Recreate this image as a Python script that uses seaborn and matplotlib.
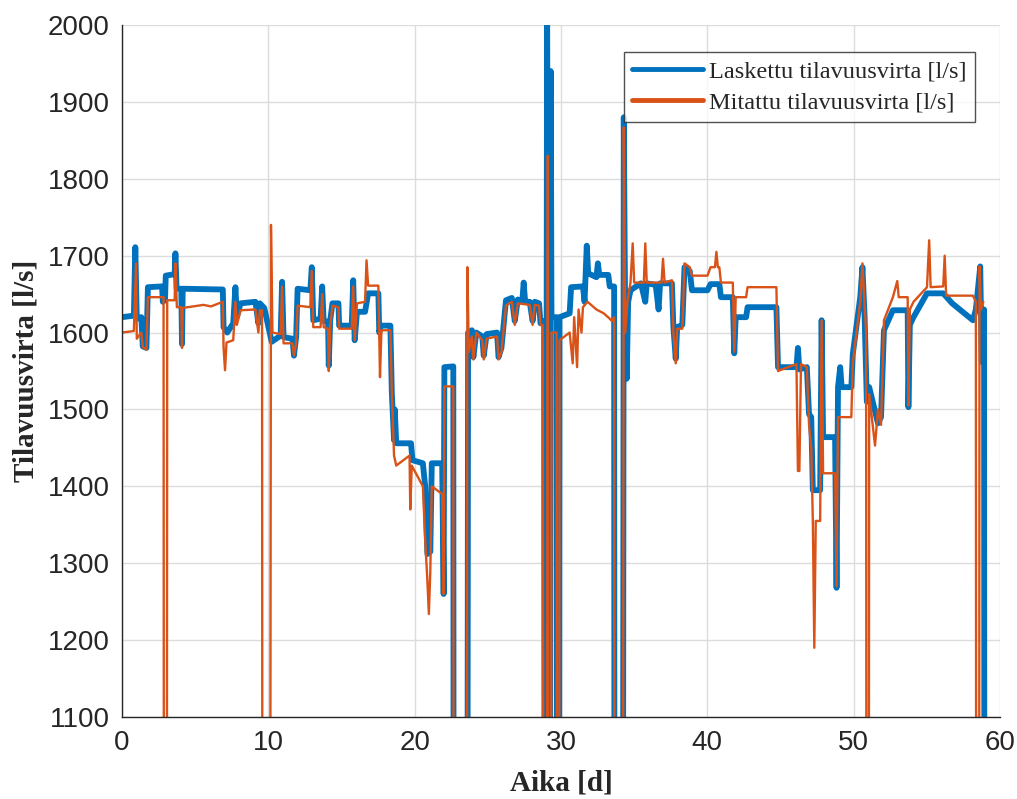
import numpy as np
import pandas as pd
import matplotlib
matplotlib.use("Agg")
import matplotlib.pyplot as plt
import seaborn as sns

# Laskettu (calculated) flow, (day, l/s) breakpoints
laskettu = [
    (0.0, 1620), (0.81, 1622), (0.91, 1711), (1.01, 1618), (1.32, 1620), (1.42, 1582),
    (1.67, 1580), (1.77, 1659), (2.74, 1660), (2.79, 1640), (2.94, 1642), (2.99, 1674),
    (3.6, 1676), (3.65, 1703), (3.73, 1657), (4.05, 1657), (4.1, 1585), (4.15, 1657),
    (6.89, 1656), (6.94, 1607), (7.19, 1600), (7.6, 1612), (7.75, 1659), (7.85, 1620),
    (8.1, 1638), (9.12, 1640), (9.32, 1612), (9.42, 1638), (9.72, 1632), (10.23, 1588),
    (10.84, 1596), (10.94, 1666), (11.04, 1594), (11.65, 1592), (11.75, 1570), (11.9, 1594),
    (12.0, 1657), (12.87, 1655), (12.97, 1685), (13.07, 1616), (13.57, 1618), (13.68, 1660),
    (13.78, 1615), (14.08, 1614), (14.13, 1557), (14.23, 1616), (14.38, 1638), (14.79, 1638),
    (14.84, 1609), (15.7, 1609), (15.8, 1668), (15.9, 1590), (16.06, 1627), (16.61, 1627),
    (16.82, 1651), (17.52, 1651), (17.58, 1600), (17.68, 1609), (18.34, 1609), (18.44, 1521),
    (18.59, 1460), (18.64, 1500), (18.74, 1456), (19.75, 1456), (19.85, 1434), (20.56, 1430),
    (20.72, 1400), (20.87, 1312), (21.07, 1315), (21.17, 1430), (21.88, 1430), (21.98, 1260),
    (22.03, 1555), (22.64, 1556), (22.69, 0), (23.55, 0), (23.65, 1600), (23.91, 1603),
    (24.01, 1568), (24.21, 1600), (24.62, 1595), (24.72, 1570), (24.92, 1598), (25.63, 1600),
    (25.73, 1568), (25.93, 1580), (26.24, 1642), (26.64, 1645), (26.84, 1615), (27.05, 1643),
    (27.35, 1640), (27.45, 1665), (27.55, 1640), (27.86, 1640), (28.06, 1615), (28.21, 1640),
    (28.5, 1638), (28.6, 1612), (28.85, 1615), (28.9, 0), (29.05, 2050), (29.1, 1620),
    (29.2, 0), (29.3, 1940), (29.35, 1620), (29.7, 1620), (29.75, 0), (29.85, 0),
    (29.9, 1620), (30.59, 1625), (30.69, 1659), (31.5, 1660), (31.61, 1640), (31.76, 1713),
    (31.86, 1677), (32.42, 1672), (32.52, 1690), (32.62, 1675), (33.23, 1675), (33.33, 1660),
    (33.63, 1660), (33.68, 0), (34.19, 0), (34.29, 1880), (34.39, 1610), (34.49, 1540),
    (34.59, 1640), (34.75, 1655), (35.46, 1664), (35.76, 1640), (35.86, 1664), (36.47, 1662),
    (36.67, 1630), (36.77, 1664), (37.58, 1664), (37.68, 1607), (37.84, 1566), (37.94, 1607),
    (38.29, 1610), (38.44, 1685), (38.8, 1680), (38.95, 1655), (40.01, 1655), (40.22, 1663),
    (40.82, 1663), (40.93, 1646), (41.74, 1646), (41.84, 1573), (41.94, 1620), (42.65, 1620),
    (42.75, 1633), (44.72, 1633), (44.83, 1555), (46.09, 1555), (46.19, 1580), (46.29, 1552),
    (46.8, 1555), (46.95, 1494), (47.1, 1490), (47.21, 1395), (47.71, 1395), (47.81, 1616),
    (47.91, 1464), (48.73, 1464), (48.83, 1268), (48.93, 1529), (49.08, 1555), (49.18, 1529),
    (49.84, 1529), (49.94, 1572), (50.45, 1646), (50.6, 1685), (50.75, 1620), (50.9, 1510),
    (51.06, 1529), (51.66, 1482), (51.87, 1490), (52.07, 1603), (52.68, 1629), (53.69, 1629),
    (53.74, 1503), (53.84, 1610), (54.09, 1620), (55.01, 1651), (56.12, 1651), (56.73, 1638),
    (58.15, 1616), (58.35, 1630), (58.65, 1686), (58.75, 1562), (58.91, 1630), (58.96, 0),
]

# Mitattu (measured) flow
mitattu = [
    (0.0, 1600), (0.81, 1602), (0.96, 1690), (1.01, 1592), (1.32, 1600), (1.42, 1581),
    (1.67, 1578), (1.77, 1646), (2.84, 1646), (2.89, 0), (3.04, 0), (3.09, 1642),
    (3.6, 1642), (3.65, 1690), (3.75, 1633), (4.05, 1633), (4.1, 1580), (4.15, 1632),
    (5.57, 1636), (6.08, 1634), (6.89, 1640), (6.94, 1581), (7.04, 1551), (7.14, 1587),
    (7.6, 1590), (7.75, 1640), (7.85, 1610), (8.1, 1629), (9.12, 1630), (9.32, 1600),
    (9.42, 1629), (9.57, 1629), (9.62, 0), (10.08, 0), (10.18, 1740), (10.28, 1600),
    (10.84, 1598), (10.94, 1660), (11.04, 1586), (11.65, 1586), (11.75, 1570), (11.9, 1586),
    (12.0, 1635), (12.87, 1633), (12.97, 1680), (13.07, 1607), (13.57, 1607), (13.68, 1650),
    (13.78, 1607), (14.08, 1605), (14.13, 1550), (14.23, 1607), (14.38, 1635), (14.79, 1633),
    (14.84, 1605), (15.7, 1605), (15.8, 1660), (15.9, 1590), (16.06, 1638), (16.61, 1640),
    (16.71, 1694), (16.82, 1661), (17.52, 1661), (17.58, 1600), (17.63, 1542), (17.73, 1603),
    (18.34, 1603), (18.44, 1521), (18.59, 1440), (18.74, 1427), (19.65, 1440), (19.7, 1370),
    (19.8, 1427), (20.56, 1400), (20.72, 1330), (20.87, 1277), (20.97, 1234), (21.07, 1290),
    (21.17, 1400), (21.88, 1390), (21.98, 1260), (22.03, 1530), (22.64, 1530), (22.69, 0),
    (23.55, 0), (23.6, 1685), (23.7, 1575), (23.91, 1595), (24.01, 1565), (24.21, 1600),
    (24.62, 1590), (24.72, 1565), (24.92, 1592), (25.63, 1595), (25.73, 1565), (25.93, 1575),
    (26.24, 1635), (26.64, 1640), (26.84, 1610), (27.05, 1638), (27.86, 1636), (28.06, 1610),
    (28.21, 1636), (28.5, 1635), (28.6, 1610), (28.75, 1610), (28.85, 0), (29.0, 0),
    (29.1, 1830), (29.15, 0), (29.3, 0), (29.35, 1600), (29.7, 1600), (29.75, 0),
    (29.85, 0), (29.9, 1590), (30.59, 1600), (30.8, 1560), (30.9, 1620), (31.1, 1555),
    (31.2, 1630), (31.4, 1600), (31.5, 1633), (31.81, 1640), (32.42, 1630), (32.92, 1625),
    (33.33, 1618), (33.48, 1615), (33.63, 1620), (33.68, 0), (34.19, 0), (34.29, 1867),
    (34.39, 1600), (34.54, 1640), (34.75, 1665), (34.9, 1716), (35.0, 1665), (35.66, 1665),
    (35.76, 1716), (35.86, 1665), (36.87, 1665), (36.97, 1696), (37.08, 1665), (37.58, 1668),
    (37.68, 1600), (37.84, 1560), (37.94, 1605), (38.29, 1605), (38.44, 1690), (38.8, 1685),
    (38.95, 1674), (40.01, 1674), (40.22, 1685), (40.52, 1685), (40.62, 1705), (40.72, 1685),
    (40.82, 1685), (40.93, 1665), (41.74, 1665), (41.84, 1575), (41.94, 1646), (42.65, 1646),
    (42.75, 1659), (44.72, 1659), (44.83, 1550), (46.09, 1559), (46.19, 1420), (46.29, 1420),
    (46.4, 1559), (46.8, 1555), (46.95, 1480), (47.1, 1450), (47.21, 1355), (47.31, 1190),
    (47.41, 1355), (47.71, 1355), (47.81, 1616), (47.91, 1417), (48.73, 1417), (48.83, 1270),
    (48.93, 1490), (49.84, 1490), (49.94, 1560), (50.45, 1640), (50.6, 1690), (50.85, 1600),
    (50.9, 0), (51.0, 0), (51.06, 1520), (51.46, 1453), (51.66, 1500), (51.87, 1480),
    (52.07, 1616), (52.68, 1646), (52.98, 1667), (53.08, 1646), (53.69, 1646), (53.74, 1505),
    (53.84, 1630), (54.09, 1640), (55.01, 1659), (55.16, 1720), (55.26, 1659), (56.12, 1660),
    (56.22, 1700), (56.32, 1648), (58.15, 1648), (58.35, 1640), (58.4, 0), (58.55, 0),
    (58.6, 1686), (58.7, 1630), (58.86, 1640),
]

x_ticks = [0, 10, 20, 30, 40, 50, 60]
y_ticks = [1100, 1200, 1300, 1400, 1500, 1600, 1700, 1800, 1900, 2000]
labels = ["Laskettu tilavuusvirta [l/s]", "Mitattu tilavuusvirta [l/s]"]

BLUE = "#0072BD"
ORANGE = "#D95319"
TICK_GREY = "#262626"

sns.set_style("white")
plt.rcParams["font.family"] = ["Liberation Sans", "DejaVu Sans"]

fig = plt.figure(figsize=(10.17, 7.99), dpi=100)
ax = fig.add_axes([122 / 1017, 1 - 717 / 799, 878 / 1017, 692 / 799])

t_b, v_b = zip(*laskettu)
t_o, v_o = zip(*mitattu)
sns.lineplot(x=list(t_b), y=list(v_b), ax=ax, estimator=None, sort=False,
             color=BLUE, lw=4.2, label=labels[0])
sns.lineplot(x=list(t_o), y=list(v_o), ax=ax, estimator=None, sort=False,
             color=ORANGE, lw=1.7, label=labels[1])

ax.set_xlim(0, 60)
ax.set_ylim(1100, 2000)
ax.set_xticks(x_ticks)
ax.set_yticks(y_ticks)
ax.grid(True, color="#dcdcdc", lw=1.0)
ax.set_axisbelow(True)

for side in ["top", "right"]:
    ax.spines[side].set_visible(False)
for side in ["left", "bottom"]:
    ax.spines[side].set_color(TICK_GREY)
    ax.spines[side].set_linewidth(1.0)

ax.tick_params(axis="both", direction="in", length=6, width=1.0,
               colors=TICK_GREY, labelsize=20)
ax.tick_params(axis="x", pad=9)
ax.tick_params(axis="y", pad=9)

serif = ["Liberation Serif", "DejaVu Serif"]
ax.set_xlabel("Aika [d]", family=serif, fontweight="bold", fontsize=21,
              color=TICK_GREY, labelpad=10)
ax.set_ylabel("Tilavuusvirta [l/s]", family=serif, fontweight="bold", fontsize=21,
              color=TICK_GREY, labelpad=6)

leg = ax.legend(loc="upper right", bbox_to_anchor=(0.9715, 0.961),
                prop={"family": serif, "size": 17.5}, frameon=True, fancybox=False,
                handlelength=2.9, handletextpad=0.25, borderpad=0.35,
                labelspacing=0.35, borderaxespad=0)
leg.get_frame().set_edgecolor("#262626")
leg.get_frame().set_linewidth(1.0)
for line in leg.get_lines():
    line.set_linewidth(3.5)

fig.savefig("out.png", dpi=100)
